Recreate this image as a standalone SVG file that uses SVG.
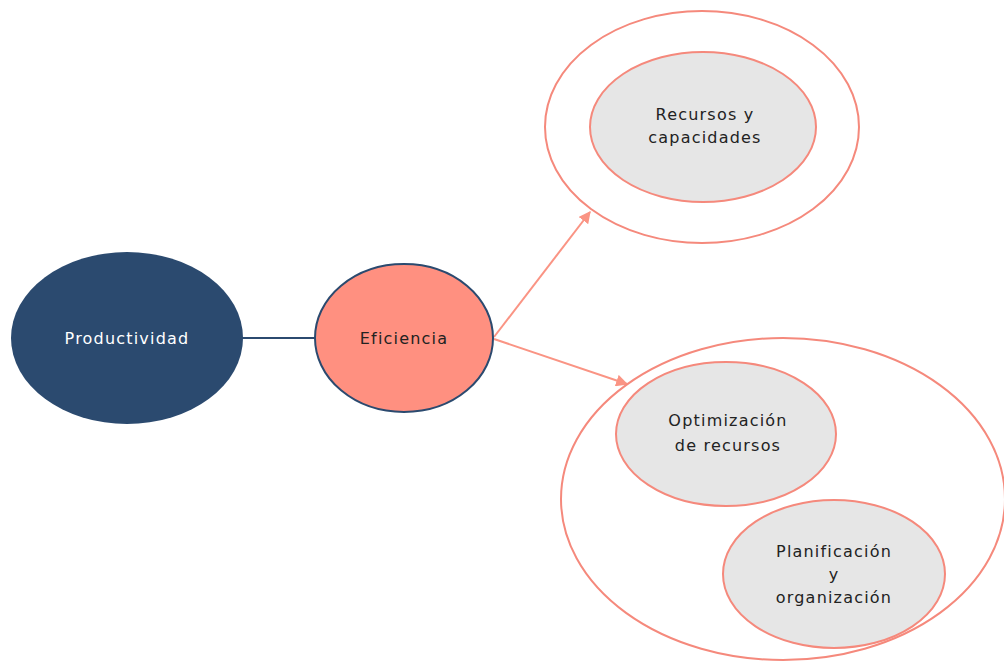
<svg xmlns="http://www.w3.org/2000/svg" width="1004" height="662" viewBox="0 0 1004 662">
<style>
  .t { font-family: "DejaVu Sans", "Liberation Sans", sans-serif; font-size: 16px; letter-spacing: 1.2px; text-anchor: middle; fill: #222; }
  .ring { fill: none; stroke: #F5897C; stroke-width: 2; }
  .inner { fill: #E6E6E6; stroke: #F5897C; stroke-width: 2; }
  .conn { stroke: #FA9484; stroke-width: 2; fill: none; }
</style>
<defs>
  <marker id="ah" viewBox="0 0 10 10" refX="9" refY="5" markerWidth="6" markerHeight="6" orient="auto" markerUnits="strokeWidth">
    <path d="M0,0 L10,5 L0,10 z" fill="#FA9484"/>
  </marker>
</defs>
<rect width="1004" height="662" fill="#fff"/>
<g id="connectors">
  <line x1="241" y1="338" x2="316" y2="338" stroke="#2B4A6F" stroke-width="2"/>
  <line class="conn" x1="494" y1="337" x2="590" y2="212" marker-end="url(#ah)"/>
  <line class="conn" x1="494" y1="339" x2="627" y2="384" marker-end="url(#ah)"/>
</g>
<g id="productividad">
  <ellipse cx="127" cy="338" rx="116" ry="86" fill="#2B4A6F"/>
  <text class="t" x="127" y="344" style="fill:#fff">Productividad</text>
</g>
<g id="eficiencia">
  <ellipse cx="404" cy="338" rx="89" ry="74" fill="#FF9080" stroke="#2B4A6F" stroke-width="2"/>
  <text class="t" x="404" y="344">Eficiencia</text>
</g>
<g id="grupo-recursos">
  <ellipse class="ring" cx="702" cy="127" rx="157" ry="116"/>
</g>
<g id="recursos">
  <ellipse class="inner" cx="703" cy="127" rx="113" ry="75"/>
  <text class="t" x="705" y="120">Recursos y</text>
  <text class="t" x="705" y="143">capacidades</text>
</g>
<g id="grupo-optimizacion">
  <ellipse class="ring" cx="783" cy="499" rx="222" ry="161"/>
</g>
<g id="optimizacion">
  <ellipse class="inner" cx="726" cy="434" rx="110" ry="72"/>
  <text class="t" x="728" y="426">Optimización</text>
  <text class="t" x="728" y="451">de recursos</text>
</g>
<g id="planificacion">
  <ellipse class="inner" cx="834" cy="574" rx="111" ry="74"/>
  <text class="t" x="834" y="557">Planificación</text>
  <text class="t" x="834" y="580">y</text>
  <text class="t" x="834" y="603">organización</text>
</g>
</svg>
